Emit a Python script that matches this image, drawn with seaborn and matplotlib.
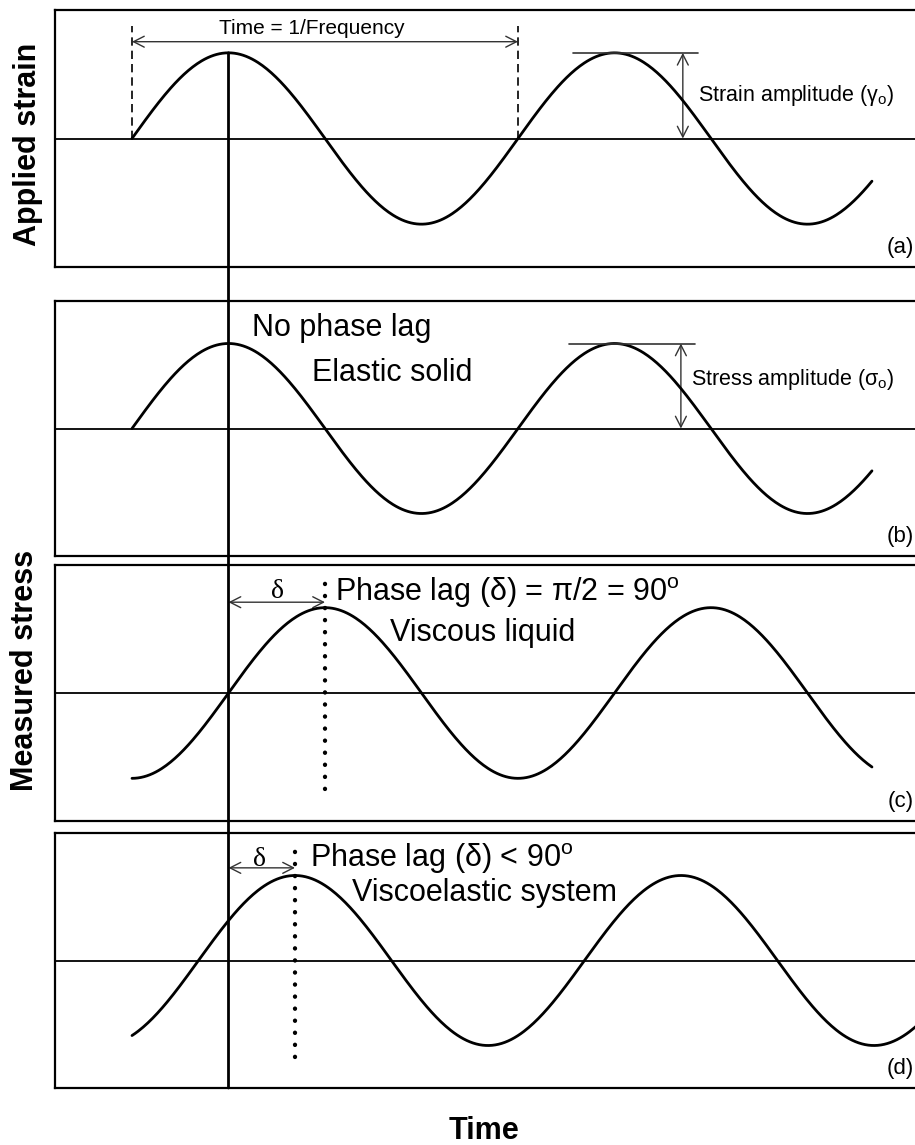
import numpy as np
import pandas as pd
import matplotlib
matplotlib.use("Agg")
import matplotlib.pyplot as plt
import seaborn as sns
from matplotlib.patches import FancyArrowPatch, ConnectionPatch

# ---------------- data (time in units of one period) ----------------
panel_tags = ["(a)", "(b)", "(c)", "(d)"]
phase_lag_deg = [0, 0, 90, 62]          # lag of each wave relative to the strain
wave_start = [0.0, 0.0, 0.0, 0.0]
wave_end = [1.917, 1.917, 1.917, 2.06]
amplitude = [1.0, 1.0, 1.0, 1.0]
y_labels = ["Applied strain", "Measured stress"]
x_label = "Time"
panel_notes = [
    [],
    ["No phase lag", "Elastic solid"],
    ["Phase lag (δ) = π/2 = 90$^\\mathregular{o}$", "Viscous liquid"],
    ["Phase lag (δ) < 90$^\\mathregular{o}$", "Viscoelastic system"],
]
note_pos = [
    [],
    [(0.311, 1.18), (0.466, 0.65)],
    [(0.526, 1.18), (0.668, 0.70)],
    [(0.461, 1.20), (0.570, 0.79)],
]
amp_labels = ["Strain amplitude (γ$_\\mathregular{o}$)", "Stress amplitude (σ$_\\mathregular{o}$)"]

# ---------------- style ----------------
sns.set_theme(style="white")
plt.rcParams["font.family"] = ["Liberation Sans", "DejaVu Sans"]
plt.rcParams["mathtext.fontset"] = "custom"
plt.rcParams["mathtext.rm"] = "Liberation Sans"
plt.rcParams["text.color"] = "black"

W, H = 915, 1145
fig = plt.figure(figsize=(W / 100, H / 100), dpi=100)

tops = [10, 301, 565, 833]
bottoms = [267, 556, 821, 1088]
left_px, right_px = 55, 918
t0_px, per_px = 132, 386
xlim = ((left_px - t0_px) / per_px, (right_px - t0_px) / per_px)
ylim = (-1.5, 1.5)

rows = []
for i in range(4):
    t = np.linspace(wave_start[i], wave_end[i], 500)
    v = amplitude[i] * np.sin(2 * np.pi * (t - phase_lag_deg[i] / 360.0))
    rows.append(pd.DataFrame({"t": t, "value": v, "panel": panel_tags[i]}))
df = pd.concat(rows, ignore_index=True)

axes = []
for i in range(4):
    ax = fig.add_axes([left_px / W, 1 - bottoms[i] / H,
                       (right_px - left_px) / W, (bottoms[i] - tops[i]) / H])
    sub = df[df["panel"] == panel_tags[i]]
    sns.lineplot(data=sub, x="t", y="value", ax=ax, color="black", lw=2.0,
                 sort=False, estimator=None)
    ax.axhline(0, color="black", lw=1.3)
    ax.set_xlim(*xlim)
    ax.set_ylim(*ylim)
    ax.set_xticks([])
    ax.set_yticks([])
    ax.set_xlabel("")
    ax.set_ylabel("")
    for s in ["top", "left", "bottom"]:
        ax.spines[s].set_visible(True)
        ax.spines[s].set_color("black")
        ax.spines[s].set_linewidth(1.6)
    ax.spines["right"].set_visible(False)
    ax.text(2.025, -1.27, panel_tags[i], ha="right", va="center", fontsize=16)
    axes.append(ax)


def dbl_arrow(ax, p1, p2):
    a = FancyArrowPatch(p1, p2, arrowstyle="<->,head_length=0.55,head_width=0.28",
                        mutation_scale=14, color="#333333", lw=1.0,
                        shrinkA=0, shrinkB=0)
    ax.add_patch(a)


# (a) period and amplitude
ax = axes[0]
ax.plot([0, 0], [0, 1.31], color="black", lw=1.2, ls=(0, (5, 3)))
ax.plot([1, 1], [0, 1.31], color="black", lw=1.2, ls=(0, (5, 3)))
dbl_arrow(ax, (0, 1.13), (1, 1.13))
ax.text(0.466, 1.28, "Time = 1/Frequency", ha="center", va="center", fontsize=15)
ax.plot([1.142, 1.466], [1, 1], color="#333333", lw=1.2)
dbl_arrow(ax, (1.427, 1.0), (1.427, 0.0))
ax.text(1.466, 0.5, amp_labels[0], ha="left", va="center", fontsize=15.5)

# (b)
ax = axes[1]
ax.plot([1.132, 1.459], [1, 1], color="#333333", lw=1.2)
dbl_arrow(ax, (1.422, 1.0), (1.422, 0.0))
ax.text(1.448, 0.58, amp_labels[1], ha="left", va="center", fontsize=15.5)

# (c), (d) lag markers
for i, (ytop, ybot, yarr, dx) in zip([2, 3], [(1.40, -1.13, 1.064, 0.376), (1.41, -1.13, 1.09, 0.33)]):
    ax = axes[i]
    tpk = 0.25 + phase_lag_deg[i] / 360.0
    ax.plot([tpk, tpk], [ybot, ytop], color="black", lw=3.1,
            ls=(0, (0.05, 2.75)), dash_capstyle="round")
    dbl_arrow(ax, (0.25, yarr), (tpk, yarr))
    ax.text(dx, 1.19, "δ", ha="center", va="center", fontsize=20,
            family=["Liberation Serif", "DejaVu Serif"])

for i in range(4):
    for txt, (xx, yy) in zip(panel_notes[i], note_pos[i]):
        axes[i].text(xx, yy, txt, ha="left", va="center", fontsize=22)

# reference vertical line through all panels at the strain peak
con = ConnectionPatch(xyA=(0.25, 1.0), coordsA=axes[0].transData,
                      xyB=(0.25, ylim[0]), coordsB=axes[3].transData,
                      color="black", lw=2.0)
fig.add_artist(con)

fig.text(28 / W, 1 - 144 / H, y_labels[0], rotation=90, ha="center", va="center",
         fontsize=22, fontweight="bold")
fig.text(25 / W, 1 - 670 / H, y_labels[1], rotation=90, ha="center", va="center",
         fontsize=22, fontweight="bold")
fig.text(484 / W, 1 - 1131 / H, x_label, ha="center", va="center",
         fontsize=22, fontweight="bold")

fig.savefig("out.png", dpi=100, facecolor="white")
